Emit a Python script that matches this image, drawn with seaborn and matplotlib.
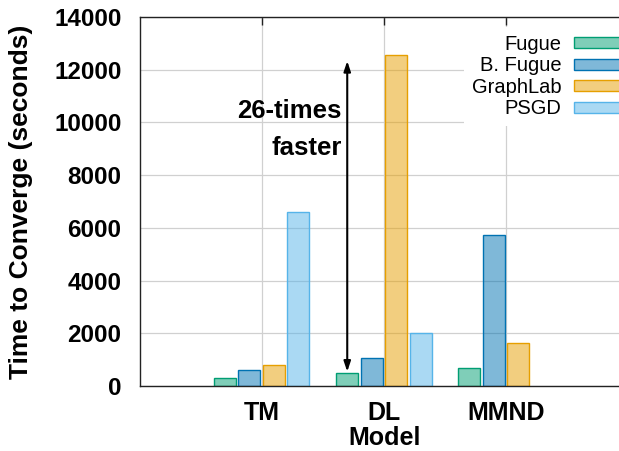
import numpy as np
import pandas as pd
import matplotlib
matplotlib.use("Agg")
import matplotlib.pyplot as plt
from matplotlib.colors import to_rgba
from matplotlib.patches import Patch
import seaborn as sns

# Convergence time (seconds) per model for each system
models = ["TM", "DL", "MMND"]
systems = ["Fugue", "B. Fugue", "GraphLab", "PSGD"]
fugue = [300, 490, 700]
bfugue = [600, 1080, 5730]
graphlab = [780, 12550, 1620]
psgd = [6620, 2000, np.nan]  # PSGD has no MMND result
colors = ["#009e73", "#0072b2", "#e69f00", "#56b4e9"]
yticks = [0, 2000, 4000, 6000, 8000, 10000, 12000, 14000]

# speed-up annotation: from Fugue on DL up to GraphLab on DL
arrow_low, arrow_high = 543, 12330

df = pd.DataFrame({
    "Model": models * 4,
    "System": [s for s in systems for _ in models],
    "Time": fugue + bfugue + graphlab + psgd,
}).dropna()

sns.set_style("white")
plt.rcParams["font.family"] = ["Liberation Sans", "DejaVu Sans"]
plt.rcParams["font.weight"] = "bold"
for key in ["text.color", "axes.labelcolor", "xtick.labelcolor", "ytick.labelcolor"]:
    plt.rcParams[key] = "black"

W, H = 619, 451
fig = plt.figure(figsize=(W / 100, H / 100), dpi=100)
ax = fig.add_axes([139.5 / W, 1 - 386 / H, (628.3 - 139.5) / W, (386 - 17) / H])

sns.barplot(data=df, x="Model", y="Time", hue="System", order=models,
            hue_order=systems, palette=colors, width=0.8, gap=0.1,
            saturation=1, linewidth=1.0, legend=False, ax=ax, zorder=2)

# half-transparent fill with a solid outline in the series colour
for container, c in zip(ax.containers, colors):
    for bar in container:
        bar.set_facecolor(to_rgba(c, 0.5))
        bar.set_edgecolor(c)

ax.set_xlim(-1, 3)
ax.set_ylim(0, 14000)
ax.set_yticks(yticks)
ax.set_yticklabels([str(v) for v in yticks])
ax.grid(True, color="#d0d0d0", linewidth=0.9)
ax.set_axisbelow(True)
for sp in ax.spines.values():
    sp.set_visible(True)
    sp.set_color("#222222")
    sp.set_linewidth(1.0)

ax.tick_params(axis="both", direction="in", length=6, width=1, color="#222222",
               top=True, right=True)
ax.tick_params(axis="y", labelsize=17.5, pad=13, labelcolor="black")
ax.tick_params(axis="x", labelsize=18, pad=11, labelcolor="black")

ax.set_xlabel("Model", fontsize=18, fontweight="bold", color="black")
ax.xaxis.set_label_coords(0.502, -0.108)
ax.set_ylabel("Time to Converge (seconds)", fontsize=19, fontweight="bold",
              color="black")
ax.yaxis.set_label_coords(-0.218, 0.5)

ax.annotate("", xy=(0.7, arrow_high), xytext=(0.7, arrow_low),
            arrowprops=dict(arrowstyle="<|-|>,head_length=0.6,head_width=0.2",
                            color="black", lw=1.5, shrinkA=0, shrinkB=0),
            zorder=4)
ax.text(0.653, 10157, "26-times", ha="right", va="baseline",
        fontsize=18.5, fontweight="bold", color="black", zorder=4)
ax.text(0.653, 8764, "faster", ha="right", va="baseline",
        fontsize=18.5, fontweight="bold", color="black", zorder=4)

handles = [Patch(facecolor=to_rgba(c, 0.5), edgecolor=c, linewidth=1.0, label=s)
           for s, c in zip(systems, colors)]
leg = ax.legend(handles=handles, loc="upper left",
                bbox_to_anchor=(464 / W, 1 - 27 / H), bbox_transform=fig.transFigure,
                frameon=True, fancybox=False, edgecolor="none", facecolor="white",
                framealpha=1, markerfirst=False, handlelength=3.4,
                handleheight=0.45, handletextpad=0.6, labelspacing=0.12,
                borderpad=0.4, borderaxespad=0,
                prop={"size": 14.5, "weight": "normal"})
for t in leg.get_texts():
    t.set_color("black")
leg.set_zorder(5)

fig.savefig("out.png", dpi=100)
